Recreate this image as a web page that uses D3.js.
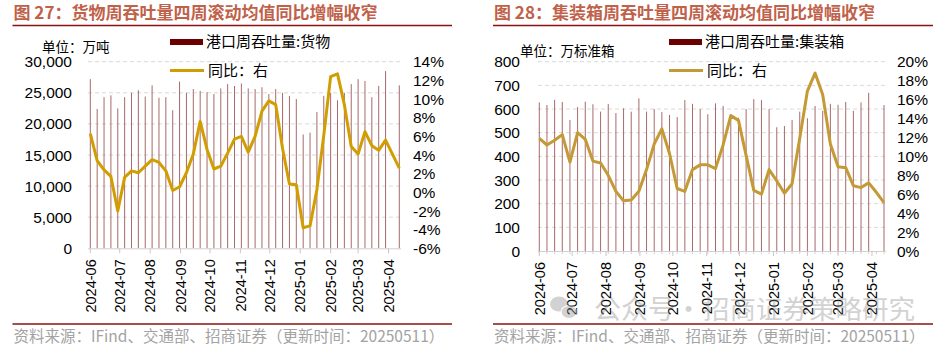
<!DOCTYPE html>
<html>
<head>
<meta charset="utf-8">
<script src="https://cdn.jsdelivr.net/npm/d3@7"></script>
<style>
	body { margin: 0; background: #fff; }
	svg { display: block; }
	text { font-family: "Liberation Sans", Arial, "Noto Sans CJK SC", sans-serif; }
	.cjk { font-family: "Noto Sans CJK SC", "Liberation Sans", sans-serif; }
</style>
</head>
<body>
<div id="chart"></div>
<script>
// weekly observations, 4-week rolling mean
var weeks = [
	"2024-06-01", "2024-06-08", "2024-06-15", "2024-06-22", "2024-06-29",
	"2024-07-06", "2024-07-13", "2024-07-20", "2024-07-27",
	"2024-08-03", "2024-08-10", "2024-08-17", "2024-08-24", "2024-08-31",
	"2024-09-07", "2024-09-14", "2024-09-21", "2024-09-28",
	"2024-10-05", "2024-10-12", "2024-10-19", "2024-10-26",
	"2024-11-02", "2024-11-09", "2024-11-16", "2024-11-23", "2024-11-30",
	"2024-12-07", "2024-12-14", "2024-12-21", "2024-12-28",
	"2025-01-04", "2025-01-11", "2025-01-18", "2025-01-25",
	"2025-02-01", "2025-02-08", "2025-02-15", "2025-02-22",
	"2025-03-01", "2025-03-08", "2025-03-15", "2025-03-22", "2025-03-29",
	"2025-04-05", "2025-04-12"
];

var monthTicks = ["2024-06", "2024-07", "2024-08", "2024-09", "2024-10", "2024-11",
	"2024-12", "2025-01", "2025-02", "2025-03", "2025-04"];

// 港口周吞吐量:货物 (万吨)
var cargoVolume = [27200, 22400, 24300, 24600, 22500, 24300, 25000, 25400, 24400, 26200,
	24200, 24300, 22200, 26800, 25000, 25600, 25300, 25100, 24800, 25700,
	26400, 26100, 26500, 25700, 25600, 25900, 24800, 25600, 25000, 24500,
	24000, 18300, 18600, 21900, 24500, 25000, 23800, 25000, 26400, 27200,
	26900, 24300, 26100, 28500, null, 26200];
// 同比 (%)
var cargoYoY = [6.3, 3.4, 2.4, 1.7, -2.0, 1.6, 2.3, 2.1, 2.8, 3.5,
	3.2, 2.3, 0.2, 0.6, 2.1, 4.1, 7.6, 4.6, 2.5, 2.8,
	4.2, 5.7, 6.0, 4.3, 6.0, 8.7, 9.8, 9.4, 4.7, 0.9,
	0.8, -3.8, -3.6, 0.3, 6.1, 12.4, 12.7, 9.4, 4.9, 4.1,
	6.5, 5.0, 4.5, 5.6, 4.1, 2.6];

// 港口周吞吐量:集装箱 (万标准箱)
var boxVolume = [628, 617, 639, 630, 554, 608, 631, 620, 589, 621,
	583, 603, 589, 645, 589, 600, 587, 575, 566, 638,
	622, 600, 578, 624, 613, 578, 563, 600, 642, 638,
	600, 523, 528, 554, 589, 561, 613, 592, 622, 618,
	630, 592, 628, 669, null, 617];
var boxYoY = [11.9, 11.2, 11.7, 12.3, 9.4, 12.5, 11.8, 9.5, 9.3, 8.0,
	6.3, 5.3, 5.4, 6.3, 8.6, 11.3, 12.9, 10.3, 6.6, 6.3,
	8.6, 9.1, 9.1, 8.7, 11.2, 14.3, 13.8, 10.1, 6.4, 6.0,
	8.6, 7.4, 6.1, 7.1, 11.9, 16.9, 18.8, 16.5, 11.3, 8.9,
	8.8, 6.9, 6.7, 7.2, 6.2, 5.1];

var parseDay = d3.timeParse("%Y-%m-%d"),
		parseMonth = d3.timeParse("%Y-%m");

var svg = d3.select("#chart").append("svg")
		.attr("width", 946)
		.attr("height", 351);

svg.append("rect").attr("width", 946).attr("height", 351).attr("fill", "#fff");

function panel(o) {
	var g = svg.append("g");
	var dates = weeks.map(parseDay);

	var x = d3.scaleTime()
			.domain([dates[0], dates[dates.length - 1]])
			.range([o.x0, o.x1]);
	var yL = d3.scaleLinear().domain(o.leftDomain).range([o.bottom, o.top]);
	var yR = d3.scaleLinear().domain(o.rightDomain).range([o.bottom, o.top]);

	// title + rules
	g.append("text")
			.attr("class", "cjk")
			.attr("x", o.frameL + 1)
			.attr("y", 19)
			.attr("font-size", 17)
			.attr("font-weight", "bold")
			.attr("fill", "#c0614a")
			.text(o.title);
	g.append("line")
			.attr("x1", o.frameL).attr("x2", o.frameR)
			.attr("y1", 25.5).attr("y2", 25.5)
			.attr("stroke", "#8b1010").attr("stroke-width", 1.6);
	g.append("line")
			.attr("x1", o.frameL).attr("x2", o.frameR)
			.attr("y1", 324).attr("y2", 324)
			.attr("stroke", "#8b1010").attr("stroke-width", 1.6);
	g.append("text")
			.attr("class", "cjk")
			.attr("x", o.frameL + 1)
			.attr("y", 341.5)
			.attr("font-size", 15.5)
			.attr("fill", "#a3a3a3")
			.text("资料来源：IFind、交通部、招商证券（更新时间：20250511）");

	// gridlines
	var gTicks = d3.range(o.leftDomain[0], o.leftDomain[1] + 1, o.leftStep);
	g.append("g").selectAll("line")
			.data(gTicks.slice(1))
		.enter().append("line")
			.attr("x1", o.gridL).attr("x2", o.gridR)
			.attr("y1", function(d) { return yL(d); })
			.attr("y2", function(d) { return yL(d); })
			.attr("stroke", "#d9d9d9")
			.attr("stroke-dasharray", "4,3");

	// left axis labels
	g.append("g").selectAll("text")
			.data(gTicks)
		.enter().append("text")
			.attr("x", o.leftLabelX)
			.attr("y", function(d) { return yL(d); })
			.attr("dy", "0.36em")
			.attr("text-anchor", "end")
			.attr("font-size", 15.5)
			.attr("fill", "#000")
			.text(d3.format(","));

	// right axis labels
	var rTicks = d3.range(o.rightDomain[0], o.rightDomain[1] + 1, 2);
	g.append("g").selectAll("text")
			.data(rTicks)
		.enter().append("text")
			.attr("x", o.rightLabelX)
			.attr("y", function(d) { return yR(d); })
			.attr("dy", "0.36em")
			.attr("font-size", 15.5)
			.attr("fill", "#000")
			.text(function(d) { return d + "%"; });

	// bars
	g.append("g").selectAll("rect")
			.data(o.bars.map(function(v, i) { return {date: dates[i], value: v}; })
				.filter(function(d) { return d.value != null; }))
		.enter().append("rect")
			.attr("x", function(d) { return x(d.date) - 0.5; })
			.attr("y", function(d) { return yL(d.value); })
			.attr("width", 1)
			.attr("height", function(d) { return yL(0) - yL(d.value); })
			.attr("fill", "#a86a6a");

	// x axis
	g.append("line")
			.attr("x1", o.gridL).attr("x2", o.gridR)
			.attr("y1", yL(0) + 0.5).attr("y2", yL(0) + 0.5)
			.attr("stroke", "#d0d0d0");
	if (o.minorTicks) {
		g.append("g").selectAll("line")
				.data(dates)
			.enter().append("line")
				.attr("x1", function(d) { return x(d); })
				.attr("x2", function(d) { return x(d); })
				.attr("y1", yL(0)).attr("y2", yL(0) + 3)
				.attr("stroke", "#d0d0d0");
	}
	var months = monthTicks.map(parseMonth);
	g.append("g").selectAll("line")
			.data(months)
		.enter().append("line")
			.attr("x1", function(d) { return x(d); })
			.attr("x2", function(d) { return x(d); })
			.attr("y1", yL(0)).attr("y2", yL(0) + 5)
			.attr("stroke", "#c8c8c8");
	g.append("g").selectAll("text")
			.data(months)
		.enter().append("text")
			.attr("transform", function(d) { return "translate(" + x(d) + "," + (yL(0) + 11) + ") rotate(-90)"; })
			.attr("dy", "0.36em")
			.attr("text-anchor", "end")
			.attr("font-size", 14.5)
			.attr("fill", "#000")
			.text(d3.timeFormat("%Y-%m"));

	// yoy line
	var line = d3.line()
			.x(function(d, i) { return x(dates[i]); })
			.y(function(d) { return yR(d); });
	g.append("path")
			.datum(o.yoy)
			.attr("d", line)
			.attr("fill", "none")
			.attr("stroke", o.lineColor)
			.attr("stroke-width", 3)
			.attr("stroke-linejoin", "round");

	// unit + legend
	g.append("text")
			.attr("class", "cjk")
			.attr("x", o.unitX)
			.attr("y", o.unitY)
			.attr("dy", "0.36em")
			.attr("font-size", 13.5)
			.text(o.unit);
	g.append("rect")
			.attr("x", o.legendX).attr("y", 39)
			.attr("width", 33).attr("height", 6)
			.attr("fill", "#6b0000");
	g.append("text")
			.attr("class", "cjk")
			.attr("x", o.legendX + 36).attr("y", 42)
			.attr("dy", "0.36em")
			.attr("font-size", 15)
			.text(o.barName);
	g.append("line")
			.attr("x1", o.legendX).attr("x2", o.legendX + 34)
			.attr("y1", 70.5).attr("y2", 70.5)
			.attr("stroke", o.lineColor)
			.attr("stroke-width", 3);
	g.append("text")
			.attr("class", "cjk")
			.attr("x", o.legendX + 38).attr("y", 70.5)
			.attr("dy", "0.36em")
			.attr("font-size", 15)
			.text("同比：右");
}

panel({
	title: "图 27：货物周吞吐量四周滚动均值同比增幅收窄",
	unit: "单位：万吨",
	barName: "港口周吞吐量:货物",
	bars: cargoVolume,
	yoy: cargoYoY,
	lineColor: "#d09e00",
	frameL: 12.5, frameR: 452,
	x0: 90.3, x1: 399.3,
	gridL: 88, gridR: 401,
	top: 61.7, bottom: 248.3,
	leftDomain: [0, 30000], leftStep: 5000,
	rightDomain: [-6, 14],
	leftLabelX: 72, rightLabelX: 413,
	unitX: 42, unitY: 47,
	legendX: 170,
	minorTicks: false
});

panel({
	title: "图 28：集装箱周吞吐量四周滚动均值同比增幅收窄",
	unit: "单位：万标准箱",
	barName: "港口周吞吐量:集装箱",
	bars: boxVolume,
	yoy: boxYoY,
	lineColor: "#c39a35",
	frameL: 493, frameR: 933,
	x0: 539.3, x1: 884,
	gridL: 538, gridR: 886,
	top: 61.7, bottom: 251,
	leftDomain: [0, 800], leftStep: 100,
	rightDomain: [0, 20],
	leftLabelX: 520, rightLabelX: 897,
	unitX: 520, unitY: 51,
	legendX: 669,
	minorTicks: true
});

// watermark
var wm = svg.append("g").attr("opacity", 0.38).attr("fill", "#8a8a8a");
wm.append("ellipse").attr("cx", 559).attr("cy", 304).attr("rx", 9).attr("ry", 7.5);
wm.append("ellipse").attr("cx", 569).attr("cy", 312).attr("rx", 8).attr("ry", 6.5)
		.attr("stroke", "#fff").attr("stroke-width", 1.2);
wm.append("text")
		.attr("class", "cjk")
		.attr("x", 594).attr("y", 318.5)
		.attr("font-size", 27)
		.text("公众号·");
wm.append("text")
		.attr("class", "cjk")
		.attr("x", 703).attr("y", 318.5)
		.attr("font-size", 26.5)
		.text("招商证券策略研究");
</script>
</body>
</html>
